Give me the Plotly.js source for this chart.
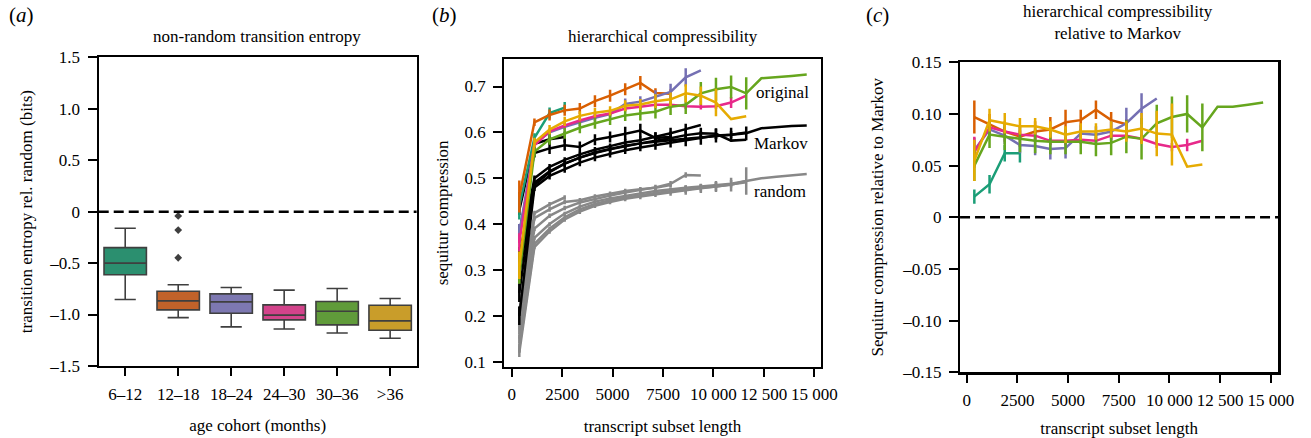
<!DOCTYPE html>
<html>
<head>
<meta charset="utf-8">
<script src="https://cdn.plot.ly/plotly-3.0.1.min.js"></script>
<style>html,body{margin:0;padding:0;background:#fff;}#chart{width:1311px;height:438px;}</style>
</head>
<body>
<div id="chart"></div>
<script>
// ---------- Panel (a): box summaries ----------
const cohorts = ['6–12', '12–18', '18–24', '24–30', '30–36', '>36'];
const boxLowerFence = [-0.854, -1.03, -1.12, -1.14, -1.18, -1.23];
const boxQ1 = [-0.614, -0.955, -0.987, -1.052, -1.10, -1.153];
const boxMedian = [-0.50, -0.867, -0.877, -1.006, -0.968, -1.062];
const boxQ3 = [-0.35, -0.773, -0.799, -0.906, -0.873, -0.909];
const boxUpperFence = [-0.162, -0.711, -0.737, -0.763, -0.747, -0.844];
const boxFill = ['#2b8f6f', '#c1622a', '#7d78b1', '#d3438b', '#609b3a', '#c99d2a'];
const outlierCohort = ['12–18', '12–18', '12–18'];
const outlierValues = [-0.042, -0.179, -0.448];
const yTicksA = [-1.5, -1.0, -0.5, 0, 0.5, 1.0, 1.5];
const yTickTextA = ['–1.5', '–1.0', '–0.5', '0', '0.5', '1.0', '1.5'];

// ---------- Shared x: transcript subset lengths ----------
const subsetLength = [375, 1125, 1875, 2625, 3375, 4125, 4875, 5625, 6375, 7125, 7875, 8625, 9375, 10125, 10875, 11625, 12375, 13125, 13875, 14625];
const groupColors = ['#1b9e77', '#d95f02', '#7570b3', '#e7298a', '#66a61e', '#e6ab02'];
const xTicks = [0, 2500, 5000, 7500, 10000, 12500, 15000];
const xTickText = ['0', '2500', '5000', '7500', '10 000', '12 500', '15 000'];

// ---------- Panel (b): original ----------
const origTeal = [0.44, 0.588, 0.642, 0.654];
const origTealErr = [0.03, 0.01, 0.012, 0.012];
const origOrange = [0.46, 0.622, 0.638, 0.648, 0.652, 0.668, 0.680, 0.694, 0.708, 0.686, 0.684];
const origOrangeErr = [0.035, 0.008, 0.012, 0.012, 0.012, 0.013, 0.013, 0.013, 0.015, 0.01, 0.01];
const origPurple = [0.38, 0.575, 0.600, 0.612, 0.622, 0.632, 0.640, 0.662, 0.667, 0.677, 0.688, 0.720, 0.735];
const origPurpleErr = [0.02, 0.008, 0.008, 0.008, 0.008, 0.008, 0.008, 0.012, 0.012, 0.015, 0.018, 0.02, 0];
const origPink = [0.36, 0.572, 0.602, 0.615, 0.626, 0.635, 0.641, 0.652, 0.656, 0.660, 0.660, 0.657, 0.656, 0.657, 0.665, 0.680];
const origPinkErr = [0.02, 0.006, 0.006, 0.006, 0.006, 0.006, 0.006, 0.006, 0.006, 0.006, 0.006, 0.006, 0.006, 0.006, 0.012, 0];
const origGreen = [0.29, 0.558, 0.585, 0.598, 0.610, 0.620, 0.628, 0.637, 0.641, 0.645, 0.656, 0.660, 0.685, 0.694, 0.699, 0.685, 0.718, 0.720, 0.723, 0.726];
const origGreenErr = [0.02, 0.01, 0.012, 0.012, 0.012, 0.012, 0.012, 0.012, 0.015, 0.015, 0.018, 0.02, 0.025, 0.025, 0.025, 0.035, 0, 0, 0, 0];
const origGold = [0.31, 0.578, 0.606, 0.624, 0.636, 0.643, 0.647, 0.658, 0.661, 0.668, 0.672, 0.685, 0.680, 0.665, 0.629, 0.635];
const origGoldErr = [0.03, 0.01, 0.01, 0.01, 0.01, 0.01, 0.01, 0.012, 0.012, 0.015, 0.015, 0.02, 0.02, 0.03, 0, 0];

// ---------- Panel (b): Markov ----------
const markovTeal = [0.43, 0.575, 0.585, 0.590];
const markovTealErr = [0.01, 0.01, 0.012, 0.012];
const markovOrange = [0.38, 0.555, 0.565, 0.572, 0.568, 0.584, 0.590, 0.597, 0.604, 0.588, 0.590];
const markovOrangeErr = [0.02, 0.01, 0.012, 0.012, 0.012, 0.012, 0.012, 0.015, 0.015, 0.012, 0.012];
const markovPurple = [0.33, 0.50, 0.525, 0.540, 0.552, 0.562, 0.570, 0.578, 0.583, 0.590, 0.598, 0.607, 0.616];
const markovPurpleErr = [0.02, 0.006, 0.006, 0.006, 0.006, 0.006, 0.006, 0.008, 0.008, 0.01, 0.012, 0.012, 0];
const markovPink = [0.29, 0.49, 0.515, 0.532, 0.545, 0.556, 0.564, 0.571, 0.576, 0.580, 0.583, 0.586, 0.589, 0.592, 0.595, 0.600];
const markovPinkErr = [0.02, 0.005, 0.005, 0.005, 0.005, 0.005, 0.005, 0.005, 0.005, 0.005, 0.005, 0.005, 0.005, 0.006, 0.008, 0];
const markovGreen = [0.20, 0.48, 0.505, 0.520, 0.534, 0.545, 0.553, 0.561, 0.567, 0.572, 0.577, 0.582, 0.588, 0.593, 0.595, 0.598, 0.609, 0.612, 0.614, 0.615];
const markovGreenErr = [0.02, 0.008, 0.008, 0.008, 0.008, 0.008, 0.008, 0.008, 0.008, 0.01, 0.01, 0.012, 0.015, 0.015, 0.015, 0.015, 0, 0, 0, 0];
const markovGold = [0.25, 0.485, 0.513, 0.532, 0.545, 0.555, 0.563, 0.570, 0.576, 0.582, 0.587, 0.594, 0.598, 0.597, 0.582, 0.584];
const markovGoldErr = [0.02, 0.008, 0.008, 0.008, 0.008, 0.008, 0.008, 0.008, 0.008, 0.01, 0.01, 0.012, 0.012, 0.012, 0, 0];

// ---------- Panel (b): random ----------
const randTeal = [0.21, 0.424, 0.443, 0.458];
const randTealErr = [0.01, 0.005, 0.005, 0.005];
const randOrange = [0.19, 0.413, 0.432, 0.448, 0.452, 0.460, 0.466, 0.472, 0.476, 0.479, 0.485];
const randOrangeErr = [0.01, 0.005, 0.005, 0.005, 0.005, 0.005, 0.005, 0.005, 0.005, 0.005, 0.005];
const randPurple = [0.17, 0.39, 0.418, 0.435, 0.447, 0.455, 0.462, 0.469, 0.475, 0.480, 0.488, 0.507, 0.506];
const randPurpleErr = [0.01, 0.005, 0.005, 0.005, 0.005, 0.005, 0.005, 0.005, 0.005, 0.006, 0.006, 0.006, 0];
const randPink = [0.15, 0.37, 0.40, 0.423, 0.438, 0.449, 0.456, 0.462, 0.467, 0.472, 0.476, 0.479, 0.482, 0.485, 0.488, 0.494];
const randPinkErr = [0.01, 0.004, 0.004, 0.004, 0.004, 0.004, 0.004, 0.004, 0.004, 0.004, 0.004, 0.005, 0.005, 0.006, 0.008, 0];
const randGreen = [0.12, 0.35, 0.384, 0.41, 0.427, 0.44, 0.448, 0.455, 0.46, 0.465, 0.47, 0.474, 0.478, 0.482, 0.486, 0.494, 0.50, 0.503, 0.506, 0.509];
const randGreenErr = [0.01, 0.005, 0.005, 0.005, 0.005, 0.005, 0.005, 0.005, 0.006, 0.006, 0.008, 0.01, 0.01, 0.012, 0.015, 0.03, 0, 0, 0, 0];
const randGold = [0.13, 0.357, 0.39, 0.415, 0.432, 0.444, 0.452, 0.458, 0.463, 0.468, 0.472, 0.476, 0.479, 0.482, 0.486, 0.491];
const randGoldErr = [0.01, 0.005, 0.005, 0.005, 0.005, 0.005, 0.005, 0.005, 0.005, 0.005, 0.006, 0.008, 0.008, 0.01, 0, 0];

// ---------- Panel (c): relative to Markov ----------
const relTeal = [0.020, 0.032, 0.062, 0.062];
const relTealErr = [0.007, 0.009, 0.008, 0.009];
const relOrange = [0.097, 0.090, 0.083, 0.078, 0.083, 0.085, 0.092, 0.094, 0.104, 0.094, 0.090];
const relOrangeErr = [0.016, 0.01, 0.01, 0.01, 0.01, 0.012, 0.012, 0.01, 0.009, 0.008, 0.005];
const relPurple = [0.065, 0.085, 0.079, 0.070, 0.069, 0.066, 0.067, 0.081, 0.080, 0.083, 0.091, 0.105, 0.115];
const relPurpleErr = [0.012, 0.008, 0.008, 0.008, 0.009, 0.01, 0.01, 0.008, 0.008, 0.01, 0.015, 0.015, 0];
const relPink = [0.063, 0.087, 0.083, 0.080, 0.079, 0.074, 0.074, 0.075, 0.074, 0.079, 0.079, 0.076, 0.071, 0.068, 0.070, 0.074];
const relPinkErr = [0.015, 0.005, 0.004, 0.004, 0.004, 0.004, 0.004, 0.004, 0.004, 0.004, 0.004, 0.004, 0.004, 0.004, 0.006, 0];
const relGreen = [0.050, 0.080, 0.078, 0.076, 0.074, 0.073, 0.073, 0.073, 0.071, 0.072, 0.078, 0.076, 0.091, 0.097, 0.100, 0.087, 0.107, 0.107, 0.109, 0.111];
const relGreenErr = [0.015, 0.013, 0.013, 0.013, 0.012, 0.012, 0.012, 0.012, 0.012, 0.012, 0.016, 0.02, 0.018, 0.02, 0.018, 0.023, 0, 0, 0, 0];
const relGold = [0.055, 0.094, 0.091, 0.088, 0.088, 0.085, 0.080, 0.083, 0.083, 0.085, 0.083, 0.086, 0.081, 0.080, 0.049, 0.051];
const relGoldErr = [0.02, 0.011, 0.01, 0.008, 0.008, 0.008, 0.008, 0.008, 0.008, 0.008, 0.01, 0.015, 0.022, 0.03, 0, 0];

const yTicksB = [0.1, 0.2, 0.3, 0.4, 0.5, 0.6, 0.7];
const yTickTextB = ['0.1', '0.2', '0.3', '0.4', '0.5', '0.6', '0.7'];
const yTicksC = [-0.15, -0.10, -0.05, 0, 0.05, 0.10, 0.15];
const yTickTextC = ['–0.15', '–0.10', '–0.05', '0', '0.05', '0.10', '0.15'];

// ---------- Build traces ----------
const FONT = "'Liberation Serif', 'Times New Roman', serif";
const traces = [];

cohorts.forEach((c, i) => {
  traces.push({
    type: 'box', xaxis: 'x', yaxis: 'y', name: c,
    x: [c], q1: [boxQ1[i]], median: [boxMedian[i]], q3: [boxQ3[i]],
    lowerfence: [boxLowerFence[i]], upperfence: [boxUpperFence[i]],
    fillcolor: boxFill[i], line: {color: '#3f3f3f', width: 1.6},
    width: 0.8, whiskerwidth: 0.5, boxpoints: false, showlegend: false, hoverinfo: 'skip'
  });
});
traces.push({
  type: 'scatter', mode: 'markers', xaxis: 'x', yaxis: 'y',
  x: outlierCohort, y: outlierValues,
  marker: {symbol: 'diamond', size: 6, color: '#3f3f3f'}, showlegend: false, hoverinfo: 'skip'
});

const groups = [
  {c: groupColors[0], o: origTeal, oe: origTealErr, m: markovTeal, me: markovTealErr, r: randTeal, re: randTealErr, rel: relTeal, rele: relTealErr},
  {c: groupColors[1], o: origOrange, oe: origOrangeErr, m: markovOrange, me: markovOrangeErr, r: randOrange, re: randOrangeErr, rel: relOrange, rele: relOrangeErr},
  {c: groupColors[2], o: origPurple, oe: origPurpleErr, m: markovPurple, me: markovPurpleErr, r: randPurple, re: randPurpleErr, rel: relPurple, rele: relPurpleErr},
  {c: groupColors[3], o: origPink, oe: origPinkErr, m: markovPink, me: markovPinkErr, r: randPink, re: randPinkErr, rel: relPink, rele: relPinkErr},
  {c: groupColors[4], o: origGreen, oe: origGreenErr, m: markovGreen, me: markovGreenErr, r: randGreen, re: randGreenErr, rel: relGreen, rele: relGreenErr},
  {c: groupColors[5], o: origGold, oe: origGoldErr, m: markovGold, me: markovGoldErr, r: randGold, re: randGoldErr, rel: relGold, rele: relGoldErr}
];

function lineTrace(xa, ya, y, err, color) {
  return {
    type: 'scatter', mode: 'lines', xaxis: xa, yaxis: ya,
    x: subsetLength.slice(0, y.length), y: y,
    line: {color: color, width: 2.5},
    error_y: {type: 'data', array: err, visible: true, color: color, thickness: 2.5, width: 0},
    showlegend: false, hoverinfo: 'skip'
  };
}

groups.forEach(g => { traces.push(lineTrace('x2', 'y2', g.r, g.re, '#888888')); });
groups.forEach(g => { traces.push(lineTrace('x2', 'y2', g.m, g.me, '#000000')); });
groups.forEach(g => { traces.push(lineTrace('x2', 'y2', g.o, g.oe, g.c)); });
groups.forEach(g => { traces.push(lineTrace('x3', 'y3', g.rel, g.rele, g.c)); });

// ---------- Layout ----------
const axisCommon = {
  showline: true, mirror: true, linecolor: '#000', linewidth: 2.2,
  ticks: 'outside', ticklen: 9, tickwidth: 2, tickcolor: '#000',
  showgrid: false, zeroline: false, tickfont: {family: FONT, size: 17, color: '#000'},
  automargin: false
};
const titleFont = {family: FONT, size: 17, color: '#000'};

const layout = {
  width: 1311, height: 438,
  margin: {l: 0, r: 0, t: 0, b: 0},
  paper_bgcolor: '#fff', plot_bgcolor: '#fff',
  showlegend: false,
  font: {family: FONT, size: 17, color: '#000'},
  boxmode: 'overlay',
  xaxis: Object.assign({}, axisCommon, {
    domain: [0.0753, 0.3178], anchor: 'y', type: 'category',
    categoryorder: 'array', categoryarray: cohorts, range: [-0.5, 5.5],
    ticklabelstandoff: 3, ticklen: 8,
    title: {text: 'age cohort (months)', font: titleFont, standoff: 17}
  }),
  yaxis: Object.assign({}, axisCommon, {
    domain: [0.1644, 0.8692], anchor: 'x', range: [-1.5, 1.5],
    tickvals: yTicksA, ticktext: yTickTextA, ticklabelstandoff: 4,
    title: {text: 'transition entropy rel. random (bits)', font: titleFont, standoff: 13}
  }),
  xaxis2: Object.assign({}, axisCommon, {
    domain: [0.3847, 0.6260], anchor: 'y2', range: [-367, 15317],
    tickvals: xTicks, ticktext: xTickText, ticklabelstandoff: 3, ticklen: 8,
    title: {text: 'transcript subset length', font: titleFont, standoff: 17}
  }),
  yaxis2: Object.assign({}, axisCommon, {
    domain: [0.1628, 0.8653], anchor: 'x2', range: [0.089, 0.760],
    tickvals: yTicksB, ticktext: yTickTextB, ticklabelstandoff: 4,
    title: {text: 'sequitur compression', font: titleFont, standoff: 12}
  }),
  xaxis3: Object.assign({}, axisCommon, {
    domain: [0.7323, 0.9751], anchor: 'y3', range: [-330, 15375],
    tickvals: xTicks, ticktext: xTickText, ticklabelstandoff: 3, ticklen: 8,
    title: {text: 'transcript subset length', font: titleFont, standoff: 17}
  }),
  yaxis3: Object.assign({}, axisCommon, {
    domain: [0.150, 0.8578], anchor: 'x3', range: [-0.15, 0.15],
    tickvals: yTicksC, ticktext: yTickTextC, ticklabelstandoff: 4,
    title: {text: 'Sequitur compression relative to Markov', font: titleFont, standoff: 14}
  }),
  shapes: [
    {type: 'line', xref: 'x domain', yref: 'y', x0: 0, x1: 1, y0: 0, y1: 0,
     line: {color: '#000', width: 2.5, dash: '10px,5px'}},
    {type: 'line', xref: 'x3 domain', yref: 'y3', x0: 0, x1: 1, y0: 0, y1: 0,
     line: {color: '#000', width: 2.5, dash: '10px,5px'}}
  ],
  annotations: [
    {text: '(<i>a</i>)', xref: 'paper', yref: 'paper', x: 7 / 1311, y: 1 - 15 / 438, xanchor: 'left', yanchor: 'middle', showarrow: false, font: {family: FONT, size: 21}},
    {text: '(<i>b</i>)', xref: 'paper', yref: 'paper', x: 430 / 1311, y: 1 - 15 / 438, xanchor: 'left', yanchor: 'middle', showarrow: false, font: {family: FONT, size: 21}},
    {text: '(<i>c</i>)', xref: 'paper', yref: 'paper', x: 864 / 1311, y: 1 - 15 / 438, xanchor: 'left', yanchor: 'middle', showarrow: false, font: {family: FONT, size: 21}},
    {text: 'non-random transition entropy', xref: 'paper', yref: 'paper', x: 257 / 1311, y: 1 - 37 / 438, xanchor: 'center', yanchor: 'middle', showarrow: false, font: {family: FONT, size: 17}},
    {text: 'hierarchical compressibility', xref: 'paper', yref: 'paper', x: 663 / 1311, y: 1 - 37 / 438, xanchor: 'center', yanchor: 'middle', showarrow: false, font: {family: FONT, size: 17}},
    {text: 'hierarchical compressibility<br>relative to Markov', xref: 'paper', yref: 'paper', x: 1118 / 1311, y: 1 - 22 / 438, xanchor: 'center', yanchor: 'middle', showarrow: false, font: {family: FONT, size: 17}},
    {text: 'original', xref: 'x2', yref: 'y2', x: 12000, y: 0.687, xanchor: 'left', yanchor: 'middle', showarrow: false, font: {family: FONT, size: 17}},
    {text: 'Markov', xref: 'x2', yref: 'y2', x: 11900, y: 0.576, xanchor: 'left', yanchor: 'middle', showarrow: false, font: {family: FONT, size: 17}},
    {text: 'random', xref: 'x2', yref: 'y2', x: 11900, y: 0.471, xanchor: 'left', yanchor: 'middle', showarrow: false, font: {family: FONT, size: 17}}
  ]
};

Plotly.newPlot('chart', traces, layout, {staticPlot: true, displayModeBar: false});
</script>
</body>
</html>
